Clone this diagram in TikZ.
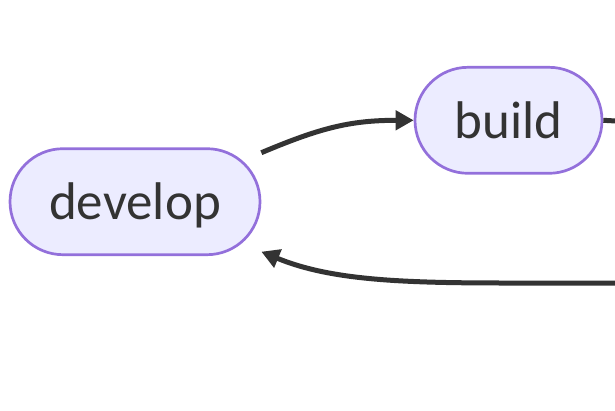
\documentclass[tikz,border=0pt]{standalone}
\usepackage{fontspec}
\setmainfont{Carlito}
\usetikzlibrary{arrows.meta}
\definecolor{nodefill}{HTML}{ECECFF}
\definecolor{nodeline}{HTML}{9370DB}
\definecolor{ink}{HTML}{333333}
\begin{document}
\begin{tikzpicture}[
          x=1pt, y=-1pt,
          stage/.style={draw=nodeline, fill=nodefill, line width=2.7pt, rounded corners=53pt,
                        minimum height=106pt, inner sep=0pt, text=ink,
                        font=\fontsize{53}{60}\selectfont, text height=38pt, text depth=2pt},
          flow/.style={draw=ink, line width=5pt, -{Triangle[length=18pt, width=19pt]}}
        ]
        \useasboundingbox (0,0) rectangle (615,410);

        \node[stage, minimum width=250pt] (dev) at (135,201.7) {develop};
        \node[stage, minimum width=187pt] (build) at (508.5,120.3) {build};

        \coordinate (out) at (616,121);
        \coordinate (back) at (616,283);

        \draw[flow] ([yshift=49pt]dev.east) .. controls (320,128) and (350,120.3) .. (build.west);
        \draw[draw=ink, line width=5pt] (build.east) -- (out);
        \draw[flow] (back) -- (507,283) .. controls (400,283) and (330,280) .. ([yshift=-50pt]dev.east);
        \end{tikzpicture}
\end{document}
